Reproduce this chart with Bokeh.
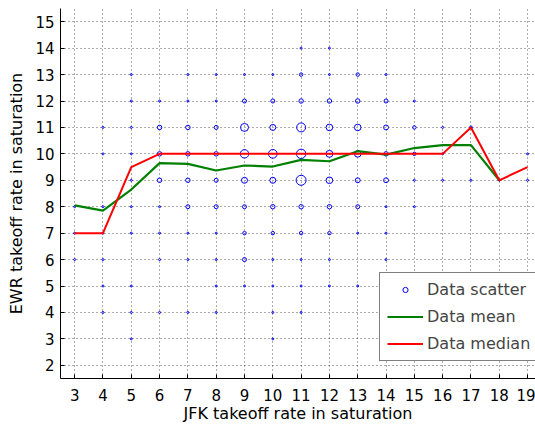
from bokeh.plotting import figure
from bokeh.models import ColumnDataSource, FixedTicker, Legend, LegendItem
from bokeh.embed import file_html
from bokeh.resources import INLINE
import numpy as np

# Scatter of (JFK rate, EWR rate) pairs with how often each occurred
scatter_x = [3, 3, 3,
             4, 4, 4, 4, 4, 4, 4,
             5, 5, 5, 5, 5, 5, 5, 5, 5, 5,
             6, 6, 6, 6, 6, 6, 6, 6,
             7, 7, 7, 7, 7, 7, 7, 7, 7,
             8, 8, 8, 8, 8, 8, 8, 8, 8, 8,
             9, 9, 9, 9, 9, 9, 9, 9, 9,
             10, 10, 10, 10, 10, 10, 10, 10, 10, 10, 10,
             11, 11, 11, 11, 11, 11, 11, 11, 11, 11, 11,
             12, 12, 12, 12, 12, 12, 12, 12, 12, 12,
             13, 13, 13, 13, 13, 13, 13, 13,
             14, 14, 14, 14, 14, 14, 14, 14,
             15, 15, 15, 15, 15,
             16, 16, 16,
             17, 17,
             18,
             19, 19]
scatter_y = [6, 7, 8,
             4, 5, 6, 7, 8, 10, 11,
             3, 4, 5, 7, 8, 9, 10, 11, 12, 13,
             4, 6, 7, 8, 9, 10, 11, 12,
             4, 6, 7, 8, 9, 10, 11, 12, 13,
             4, 5, 6, 7, 8, 9, 10, 11, 12, 13,
             5, 6, 7, 8, 9, 10, 11, 12, 13,
             3, 4, 5, 6, 7, 8, 9, 10, 11, 12, 13,
             4, 5, 6, 7, 8, 9, 10, 11, 12, 13, 14,
             5, 6, 7, 8, 9, 10, 11, 12, 13, 14,
             5, 7, 8, 9, 10, 11, 12, 13,
             6, 7, 8, 9, 10, 11, 12, 13,
             8, 9, 10, 11, 12,
             9, 10, 11,
             9, 11,
             9,
             9, 10]
scatter_count = [1, 1, 1,
                 1, 1, 1, 1, 1, 1, 1,
                 1, 1, 1, 1, 1, 1, 1, 1, 1, 1,
                 1, 1, 1, 1, 5, 5, 5, 1,
                 1, 1, 1, 4, 5, 5, 5, 1, 1,
                 1, 1, 1, 1, 4, 4, 5, 4, 1, 1,
                 1, 4, 3, 4, 9, 18, 16, 4, 1,
                 1, 1, 1, 1, 3, 5, 9, 19, 9, 4, 1,
                 1, 1, 1, 3, 5, 25, 22, 20, 5, 3, 1,
                 1, 1, 3, 5, 11, 12, 11, 5, 1, 1,
                 1, 1, 4, 6, 11, 11, 5, 3,
                 1, 1, 1, 6, 5, 6, 4, 1,
                 1, 1, 3, 3, 1,
                 1, 1, 1,
                 1, 2,
                 1,
                 1, 1]

# Mean and median EWR rate per JFK rate
mean_x = [3, 4, 5, 6, 7, 8, 9, 10, 11, 12, 13, 14, 15, 16, 17, 18]
mean_y = [8.05, 7.85, 8.65, 9.65, 9.62, 9.37, 9.56, 9.52, 9.77, 9.72, 10.1, 9.97, 10.22, 10.33, 10.33, 9.0]
median_x = [3, 4, 5, 6, 7, 8, 9, 10, 11, 12, 13, 14, 15, 16, 17, 18, 19]
median_y = [7, 7, 9.5, 10, 10, 10, 10, 10, 10, 10, 10, 10, 10, 10, 11, 9, 9.5]

x_ticks = list(range(3, 20))
y_ticks = list(range(2, 16))

FONT = "DejaVu Sans"

scatter_src = ColumnDataSource(dict(
    x=scatter_x, y=scatter_y,
    size=list(2 * np.sqrt(np.array(scatter_count, dtype=float))),
))

p = figure(
    width=535, height=429,
    x_range=(2.5, 19.28), y_range=(1.5, 15.5),
    output_backend="svg", toolbar_location=None,
    min_border_left=60, min_border_right=0,
    min_border_top=8, min_border_bottom=51,
    x_axis_label="JFK takeoff rate in saturation",
    y_axis_label="EWR takeoff rate in saturation",
)
p.outline_line_color = None
p.background_fill_color = "white"
p.border_fill_color = "white"

sc = p.scatter("x", "y", size="size", source=scatter_src, marker="circle",
               fill_color=None, line_color="#0000ff", line_width=1)
gl = p.line(mean_x, mean_y, line_color="#008000", line_width=2.2)
rl = p.line(median_x, median_y, line_color="#ff0000", line_width=2)

# axes, MATLAB style: ticks pointing inward, dotted grid
p.xaxis.ticker = FixedTicker(ticks=x_ticks)
p.yaxis.ticker = FixedTicker(ticks=y_ticks)
p.xgrid.ticker = FixedTicker(ticks=x_ticks)
p.ygrid.ticker = FixedTicker(ticks=y_ticks)
for ax in (p.xaxis, p.yaxis):
    ax.major_tick_in = 4
    ax.major_tick_out = 0
    ax.minor_tick_line_color = None
    ax.axis_line_color = "black"
    ax.major_tick_line_color = "black"
    ax.major_label_text_font = FONT
    ax.major_label_text_font_size = "15px"
    ax.major_label_text_color = "black"
    ax.axis_label_text_font = FONT
    ax.axis_label_text_font_size = "16px"
    ax.axis_label_text_font_style = "normal"
    ax.axis_label_text_color = "black"
p.xaxis.major_label_standoff = 10
p.xaxis.axis_label_standoff = 0
p.yaxis.major_label_standoff = 6
p.yaxis.axis_label_standoff = 6

for g in (p.xgrid, p.ygrid):
    g.grid_line_color = "#333333"
    g.grid_line_dash = "1 3"
    g.grid_line_width = 1
    g.grid_line_alpha = 0.8

legend = Legend(
    items=[LegendItem(label="Data scatter", renderers=[sc]),
           LegendItem(label="Data mean", renderers=[gl]),
           LegendItem(label="Data median", renderers=[rl])],
    location=(319, 17),
    border_line_color="black", border_line_width=1,
    background_fill_color="white", background_fill_alpha=1,
    label_text_font=FONT, label_text_font_size="16px",
    glyph_width=36, glyph_height=13, label_standoff=4,
    padding=7, spacing=8, margin=0,
)
p.add_layout(legend)

open("out.html", "w").write(file_html(p, INLINE))
